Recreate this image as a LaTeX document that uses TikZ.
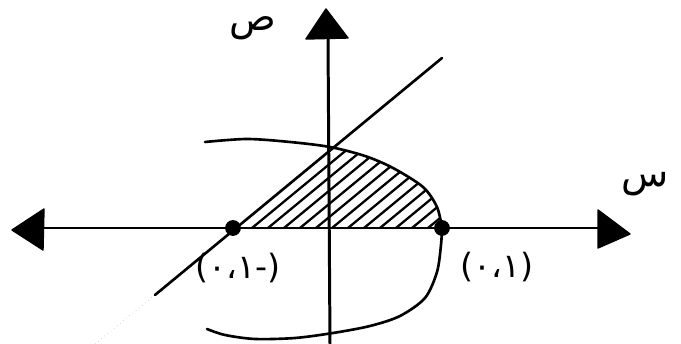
\documentclass[tikz,border=0pt]{standalone}
\usepackage{fontspec}
\newfontfamily\arabicfont[Script=Arabic]{DejaVu Sans}
\newfontfamily\digfont{DejaVu Sans}
\begin{document}
\begin{tikzpicture}[x=0.02cm,y=-0.02cm,
  axisline/.style={line width=1.7pt},
  curveline/.style={line width=1.5pt, line cap=round},
  hatchline/.style={line width=1.3pt},
  arrowtri/.style={fill=black, draw=black, line width=0.8pt, line join=round},
  bigdot/.style={circle, fill=black, inner sep=0pt, minimum size=9pt},
  lbl/.style={inner sep=0pt, font=\digfont\fontsize{19}{21}\selectfont},
  axlbl/.style={inner sep=0pt, font=\arabicfont\fontsize{22}{24}\selectfont}]
\useasboundingbox (0,0) rectangle (681,344);
% key coordinates
\coordinate (L) at (44,228);
\coordinate (R) at (598,228);
\coordinate (T) at (328,38);
\coordinate (B) at (330,344);
\coordinate (A) at (233,228);
\coordinate (C) at (442,228);
\coordinate (LnA) at (155,295);
\coordinate (LnB) at (442,58);
\coordinate (LnF) at (95,344);
% axes
\draw[axisline] (L) -- (R);
\draw[axisline] (T) -- (B);
\fill[arrowtri] (12,230) -- (44,209) -- (43,250) -- cycle;
\fill[arrowtri] (630,234) -- (598,210) -- (598,248) -- cycle;
\fill[arrowtri] (326,9) -- (306,39) -- (348,38) -- cycle;
% hatching
\begin{scope}
\clip (A) -- plot[smooth] coordinates {(330,148) (365,156) (393,168) (423,187) (437,207) (442,228)} -- cycle;
\foreach \x in {252,268,...,460}
  \draw[hatchline] (\x,228) -- ++(200,-165);
\end{scope}
% line
\draw[gray!60, line width=0.3pt, dotted] (LnA) -- (LnF);
\draw[curveline] (LnA) -- (LnB);
% parabola
\draw[curveline] plot[smooth] coordinates {(205,142) (247,139) (290,142) (330,147) (365,156) (393,168) (423,187) (437,207) (442,228)};
\draw[curveline] plot[smooth] coordinates {(442,228) (441,245) (437,272) (425,298) (400,316) (370,326) (333,333) (295,338) (255,339) (225,335) (207,329)};
% points
\node[bigdot] (PA) at (A) {};
\node[bigdot] (PC) at (C) {};
% labels
\node[lbl] (LA) at (238,268) {(٠،١-)};
\node[lbl] (LC) at (497,267) {(٠،١)};
\node[axlbl] (Ly) at (253,28) {ص};
\node[axlbl] (Lx) at (645,184) {س};
\end{tikzpicture}
\end{document}
